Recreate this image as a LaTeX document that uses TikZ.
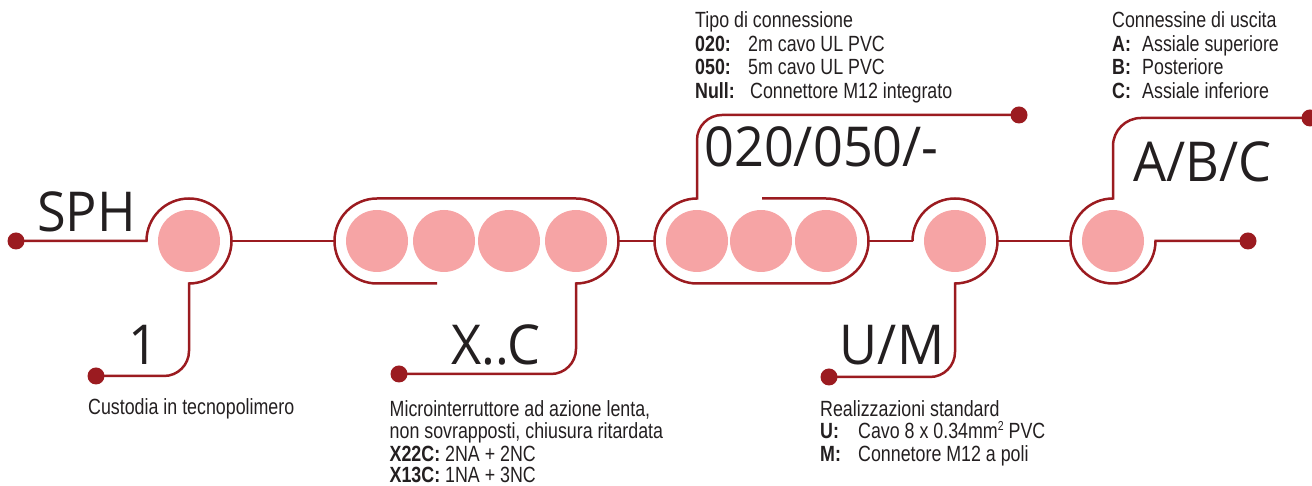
\documentclass[tikz,border=0pt]{standalone}
\usepackage{fontspec}
\newfontfamily\condfnt[FakeStretch=0.81]{Liberation Sans}
\newfontfamily\bigfnt[FakeStretch=0.95]{Open Sans}
\definecolor{linered}{HTML}{9B1B20}
\definecolor{pinkfill}{HTML}{F6A4A5}
\definecolor{txt}{HTML}{231F20}
\begin{document}
\begin{tikzpicture}[x=1pt,y=1pt,
  wire/.style={draw=linered,line width=2.5pt},
  pinkdot/.style={circle,fill=pinkfill,draw=none,minimum size=62pt,inner sep=0pt},
  enddot/.style={circle,fill=linered,draw=none,minimum size=17pt,inner sep=0pt},
  biglabel/.style={font=\bigfnt\fontsize{55}{60}\selectfont,text=txt,inner sep=0pt,anchor=base},
  desc/.style={font=\condfnt\fontsize{22}{24}\selectfont,text=txt,inner sep=0pt,anchor=base west}]
\useasboundingbox (0,0) rectangle (1312,486);

% pink circles
\node[pinkdot] (c1) at (189,245) {};
\node[pinkdot] (s2a) at (377,245) {};
\node[pinkdot] (s2b) at (444,245) {};
\node[pinkdot] (s2c) at (509,245) {};
\node[pinkdot] (s2d) at (576,245) {};
\node[pinkdot] (s3a) at (697,245) {};
\node[pinkdot] (s3b) at (761,245) {};
\node[pinkdot] (s3c) at (826,245) {};
\node[pinkdot] (c4) at (955,245) {};
\node[pinkdot] (c5) at (1113,245) {};

% end dots
\coordinate (d1) at (16,245);
\coordinate (d2) at (96,110);
\coordinate (d3) at (399,112);
\coordinate (d4) at (1019,371);
\coordinate (d5) at (829,109);
\coordinate (d6) at (1310,368);
\coordinate (d7) at (1248,245);

% ring anchor points
\coordinate (o1w) at (146.5,245);
\coordinate (o1e) at (231.5,245);
\coordinate (s2w) at (334.5,245);
\coordinate (s2e) at (618.5,245);
\coordinate (s3w) at (654.5,245);
\coordinate (s3e) at (868.5,245);
\coordinate (o4w) at (912.5,245);
\coordinate (o4e) at (997.5,245);
\coordinate (o5w) at (1070.5,245);
\coordinate (o5e) at (1155.5,245);

% unit 1
\draw[wire] (d1) -- (o1w) arc[start angle=180,end angle=-90,radius=42.5]
  -- (189,135) arc[start angle=0,end angle=-90,radius=25] -- (d2);
\draw[wire] (o1e) -- (s2w);
% unit 2 (stadium)
\draw[wire] (437,202.5) -- (377,202.5) arc[start angle=270,end angle=90,radius=42.5]
  -- (576,287.5) arc[start angle=90,end angle=-90,radius=42.5]
  -- (576,137) arc[start angle=0,end angle=-90,radius=25] -- (d3);
\draw[wire] (s2e) -- (s3w);
% unit 3 (stadium)
\draw[wire] (762,287.5) -- (826,287.5) arc[start angle=90,end angle=-90,radius=42.5]
  -- (697,202.5) arc[start angle=270,end angle=90,radius=42.5]
  -- (697,346) arc[start angle=180,end angle=90,radius=25] -- (d4);
\draw[wire] (s3e) -- (o4w);
% unit 4
\draw[wire] (o4w) arc[start angle=180,end angle=-90,radius=42.5]
  -- (955,134) arc[start angle=0,end angle=-90,radius=25] -- (d5);
\draw[wire] (o4e) -- (o5w);
% unit 5
\draw[wire] (d6) -- (1141,368) arc[start angle=90,end angle=180,radius=28]
  -- (1113,287.5) arc[start angle=90,end angle=360,radius=42.5] -- (d7);

\foreach \d in {d1,d2,d3,d4,d5,d6,d7} \node[enddot] at (\d) {};

% big labels
\node[biglabel] (tSPH) at (86.5,254) {SPH};
\node[biglabel] (t1) at (143,121) {1};
\node[biglabel] (tXC) at (496,121) {X..C};
\node[biglabel] (tUM) at (892,121) {U/M};
\node[biglabel] (tconn) at (821.5,319) {020/050/-};
\node[biglabel] (tABC) at (1202.5,304) {A/B/C};

% descriptions: bottom left
\node[desc] (cust) at (88,71) {Custodia in tecnopolimero};
% box 2
\node[desc] (m1) at (389.5,69.5) {Microinterruttore ad azione lenta,};
\node[desc] (m2) at (389.5,47) {non sovrapposti, chiusura ritardata};
\node[desc] (m3) at (389.5,24.5) {\textbf{X22C:} 2NA + 2NC};
\node[desc] (m4) at (389.5,3) {\textbf{X13C:} 1NA + 3NC};
% U/M
\node[desc] (r1) at (820,69.5) {Realizzazioni standard};
\node[desc] (r2l) at (820,47) {\textbf{U:}};
\node[desc] (r2v) at (858,47) {Cavo 8 x 0.34mm\raisebox{0.7ex}{\fontsize{13}{13}\selectfont 2} PVC};
\node[desc] (r3l) at (820,24.5) {\textbf{M:}};
\node[desc] (r3v) at (858,24.5) {Connetore M12 a poli};
% connection type
\node[desc] (k1) at (695,458) {Tipo di connessione};
\node[desc] (k2l) at (695,434.5) {\textbf{020:}};
\node[desc] (k2v) at (748,434.5) {2m cavo UL PVC};
\node[desc] (k3l) at (695,411) {\textbf{050:}};
\node[desc] (k3v) at (748,411) {5m cavo UL PVC};
\node[desc] (k4l) at (695,387.5) {\textbf{Null:}};
\node[desc] (k4v) at (750,387.5) {Connettore M12 integrato};
% output
\node[desc] (a1) at (1112,458) {Connessine di uscita};
\node[desc] (a2l) at (1112,434.5) {\textbf{A:}};
\node[desc] (a2v) at (1142,434.5) {Assiale superiore};
\node[desc] (a3l) at (1112,411) {\textbf{B:}};
\node[desc] (a3v) at (1142,411) {Posteriore};
\node[desc] (a4l) at (1112,387.5) {\textbf{C:}};
\node[desc] (a4v) at (1142,387.5) {Assiale inferiore};
\end{tikzpicture}
\end{document}
